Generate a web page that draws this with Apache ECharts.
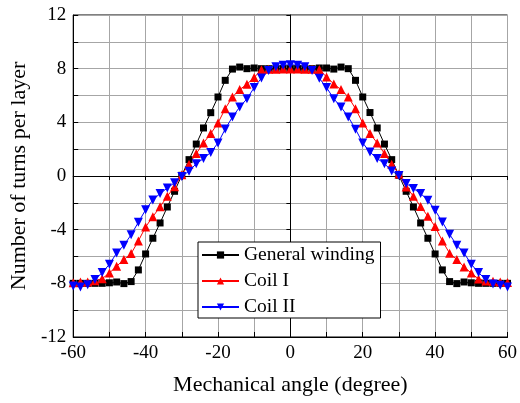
<!DOCTYPE html>
<html>
<head>
<meta charset="utf-8">
<script src="https://cdn.jsdelivr.net/npm/echarts@6/dist/echarts.min.js"></script>
<style>html,body{margin:0;padding:0;background:#fff;}#c{width:520px;height:403px;}</style>
</head>
<body>
<div id="c"></div>
<script>
var angles = [-60,-58,-56,-54,-52,-50,-48,-46,-44,-42,-40,-38,-36,-34,-32,-30,-28,-26,-24,-22,-20,-18,-16,-14,-12,-10,-8,-6,-4,-2,0,2,4,6,8,10,12,14,16,18,20,22,24,26,28,30,32,34,36,38,40,42,44,46,48,50,52,54,56,58,60];
var generalWinding = [-8,-8,-8,-8,-8,-7.96,-7.9,-8.02,-7.87,-7,-5.81,-4.64,-3.5,-2.31,-1.14,0.05,1.22,2.38,3.58,4.72,5.89,7.13,7.97,8.12,8,8.05,8,8,8,8,8,8,8,8,8.05,8.05,7.97,8.12,8,7.13,5.89,4.73,3.58,2.38,1.22,0.05,-1.14,-2.31,-3.5,-4.64,-5.81,-7,-7.87,-8.02,-7.9,-7.96,-8,-8,-8,-8,-8];
var coilI = [-7.95,-7.9,-7.9,-7.8,-7.65,-7.23,-6.72,-6.23,-5.78,-4.84,-3.8,-3.03,-2.3,-1.51,-0.8,0.1,0.87,1.67,2.46,3.16,3.95,5.02,5.89,6.44,6.84,7.35,7.92,7.95,7.95,7.97,7.97,7.97,7.95,7.95,7.93,7.38,6.86,6.44,5.89,5.02,3.95,3.16,2.46,1.67,0.87,0.15,-0.82,-1.51,-2.28,-3.0,-3.77,-4.84,-5.76,-6.23,-6.78,-7.23,-7.68,-7.82,-7.85,-7.9,-7.93];
var coilII = [-8.2,-8.27,-8.1,-7.72,-7.2,-6.58,-5.74,-5.16,-4.38,-3.45,-2.52,-1.78,-1.31,-0.9,-0.5,-0.03,0.36,0.92,1.3,1.76,2.46,3.5,4.4,5.14,5.75,6.59,7.3,7.86,8.15,8.25,8.3,8.25,8.15,7.86,7.28,6.59,5.76,5.14,4.4,3.49,2.46,1.78,1.3,0.92,0.38,0.03,-0.55,-0.93,-1.31,-1.8,-2.55,-3.43,-4.35,-5.16,-5.74,-6.58,-7.2,-7.72,-8.05,-8.14,-8.27];
var xTicks = [-60,-40,-20,0,20,40,60];
var yTicks = [-12,-8,-4,0,4,8,12];
var seriesNames = ['General winding','Coil I','Coil II'];

function pairs(vals){ return angles.map(function(a,i){ return [a, vals[i]]; }); }
var FONT = "'Liberation Serif','Times New Roman',serif";
var chart = echarts.init(document.getElementById('c'), null, {renderer:'canvas'});
var gridLine = {show:true, lineStyle:{color:'#a6a6a6', width:1}};
chart.setOption({
  animation:false,
  backgroundColor:'#fff',
  textStyle:{fontFamily:FONT, color:'#000'},
  grid:{left:73, right:9, top:15, bottom:66, show:true, borderColor:'#000', borderWidth:1, backgroundColor:'transparent'},
  legend:{
    orient:'vertical', left:198, top:242,
    data:seriesNames,
    itemWidth:37, itemHeight:9, itemGap:6,
    padding:[3,6,1,3],
    borderColor:'#000', borderWidth:1, backgroundColor:'#fff',
    textStyle:{fontFamily:FONT, fontSize:19.5, lineHeight:18, color:'#000', padding:[0,0,0,0]}
  },
  xAxis:[{
    type:'value', min:-60, max:60, interval:10,
    name:'Mechanical angle (degree)', nameLocation:'middle', nameGap:37,
    nameTextStyle:{fontFamily:FONT, fontSize:22, color:'#000'},
    axisLine:{show:true, onZero:false, lineStyle:{color:'#000', width:1}},
    axisTick:{show:true, inside:true, length:5, lineStyle:{color:'#000'}},
    axisLabel:{margin:7, fontFamily:FONT, fontSize:19, color:'#000',
      formatter:function(v){ return xTicks.indexOf(v) >= 0 ? String(v) : ''; }},
    splitLine:gridLine
  },{
    type:'value', position:'top', min:-60, max:60, interval:10,
    axisLine:{show:true, lineStyle:{color:'#000'}},
    axisTick:{show:true, inside:true, length:4, lineStyle:{color:'#000'}},
    axisLabel:{show:false}, splitLine:{show:false}
  }],
  yAxis:[{
    type:'value', min:-12, max:12, interval:2,
    name:'Number of turns per layer', nameLocation:'middle', nameGap:43,
    nameTextStyle:{fontFamily:FONT, fontSize:22, color:'#000'},
    axisLine:{show:true, onZero:false, lineStyle:{color:'#000', width:1}},
    axisTick:{show:true, inside:true, length:5, lineStyle:{color:'#000'}},
    axisLabel:{margin:7, fontFamily:FONT, fontSize:19, color:'#000',
      formatter:function(v){ return yTicks.indexOf(v) >= 0 ? String(v) : ''; }},
    splitLine:gridLine
  },{
    type:'value', position:'right', min:-12, max:12, interval:2,
    axisLine:{show:true, lineStyle:{color:'#000'}},
    axisTick:{show:true, inside:true, length:4, lineStyle:{color:'#000'}},
    axisLabel:{show:false}, splitLine:{show:false}
  }],
  series:[{
    name:seriesNames[0], type:'line', data:pairs(generalWinding),
    symbol:'rect', symbolSize:7, showAllSymbol:true,
    lineStyle:{color:'#000', width:1}, itemStyle:{color:'#000'}
  },{
    name:seriesNames[1], type:'line', data:pairs(coilI),
    symbol:'triangle', symbolSize:9, showAllSymbol:true,
    lineStyle:{color:'#ff0000', width:1}, itemStyle:{color:'#ff0000'}
  },{
    name:seriesNames[2], type:'line', data:pairs(coilII),
    symbol:'triangle', symbolRotate:180, symbolSize:9, showAllSymbol:true,
    lineStyle:{color:'#0000ff', width:1}, itemStyle:{color:'#0000ff'}
  }]
});
</script>
</body>
</html>
